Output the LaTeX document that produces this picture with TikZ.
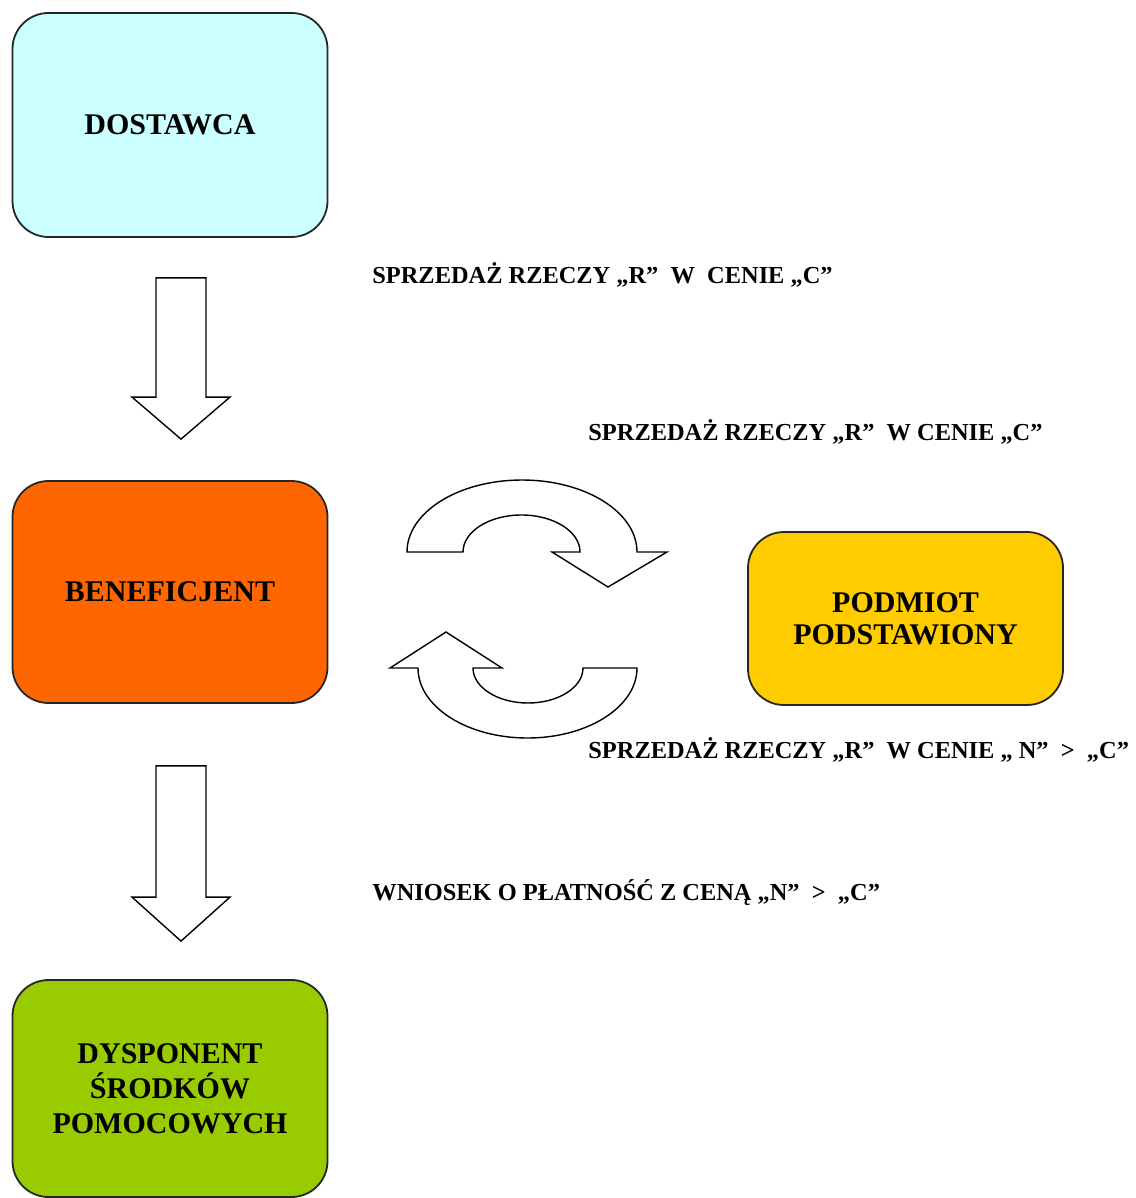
\documentclass[tikz,border=0pt]{standalone}
\usepackage{fontspec}
\setmainfont{Liberation Serif}
\usetikzlibrary{calc}
\definecolor{dostblue}{RGB}{204,255,255}
\definecolor{benorange}{RGB}{255,102,0}
\definecolor{podyellow}{RGB}{255,204,0}
\definecolor{dysgreen}{RGB}{153,204,0}

\begin{document}
\begin{tikzpicture}[x=0.5pt, y=-0.5pt,
    box/.style={draw=black!85, line width=0.9pt, rounded corners=18pt,
                minimum width=157.5pt, align=center,
                font=\fontsize{15}{17.5}\selectfont\bfseries},
    lbl/.style={anchor=base west, inner sep=0pt,
                font=\fontsize{12.2}{14}\selectfont\bfseries},
    blockarrow/.style={draw, fill=white, line width=0.7pt, line join=miter}]

    \useasboundingbox (0,0) rectangle (1135,1198);

    % ---- boxes ----
    \node[box, fill=dostblue, minimum height=112pt] (dost) at (170,125) {DOSTAWCA};
    \node[box, fill=benorange, minimum height=111pt] (benef) at (170,592) {BENEFICJENT};
    \node[box, fill=podyellow, minimum width=157.5pt, minimum height=86.5pt,
          font=\fontsize{15}{16}\selectfont\bfseries] (podm) at (905.5,618.5)
          {PODMIOT\\PODSTAWIONY};
    \node[box, fill=dysgreen, minimum height=108.5pt] (dysp) at (170,1088.5)
          {DYSPONENT\\ŚRODKÓW\\POMOCOWYCH};

    % ---- block arrows down ----
    \coordinate (a1top) at ($(dost.south)+(11,40)$);
    \coordinate (a1tip) at ($(benef.north)+(11,-41)$);
    \draw[blockarrow] ($(a1top)+(-25,0)$) -- ($(a1top)+(25,0)$)
        -- ($(a1tip)+(25,-42)$) -- ($(a1tip)+(49,-42)$) -- (a1tip)
        -- ($(a1tip)+(-49,-42)$) -- ($(a1tip)+(-25,-42)$) -- cycle;

    \coordinate (a2top) at ($(benef.south)+(11,62)$);
    \coordinate (a2tip) at ($(dysp.north)+(11,-38)$);
    \draw[blockarrow] ($(a2top)+(-25,0)$) -- ($(a2top)+(25,0)$)
        -- ($(a2tip)+(25,-44)$) -- ($(a2tip)+(49,-44)$) -- (a2tip)
        -- ($(a2tip)+(-49,-44)$) -- ($(a2tip)+(-25,-44)$) -- cycle;

    % ---- curved arrows ----
    \draw[blockarrow] (407,552) arc[start angle=180, end angle=360, x radius=115, y radius=72]
        -- (667,552) -- (608,587) -- (552,552) -- (580,552)
        arc[start angle=0, end angle=-180, x radius=58.5, y radius=37] -- cycle;
    \draw[blockarrow] (637,668) arc[start angle=0, end angle=180, x radius=109.5, y radius=70]
        -- (390,668) -- (446,632) -- (502,668) -- (473,668)
        arc[start angle=180, end angle=0, x radius=55, y radius=35] -- cycle;

    % ---- labels ----
    \node[lbl] (l1) at (372,283) {SPRZEDAŻ RZECZY „R”\ \ W\ \ CENIE „C”};
    \node[lbl] (l2) at (588,440) {SPRZEDAŻ RZECZY „R”\ \ W CENIE „C”};
    \node[lbl] (l3) at (588,758) {SPRZEDAŻ RZECZY „R”\ \ W CENIE „ N”\ \ >\ \ „C”};
    \node[lbl] (l4) at (372,900) {WNIOSEK O PŁATNOŚĆ Z CENĄ „N”\ \ >\ \ „C”};

\end{tikzpicture}
\end{document}
